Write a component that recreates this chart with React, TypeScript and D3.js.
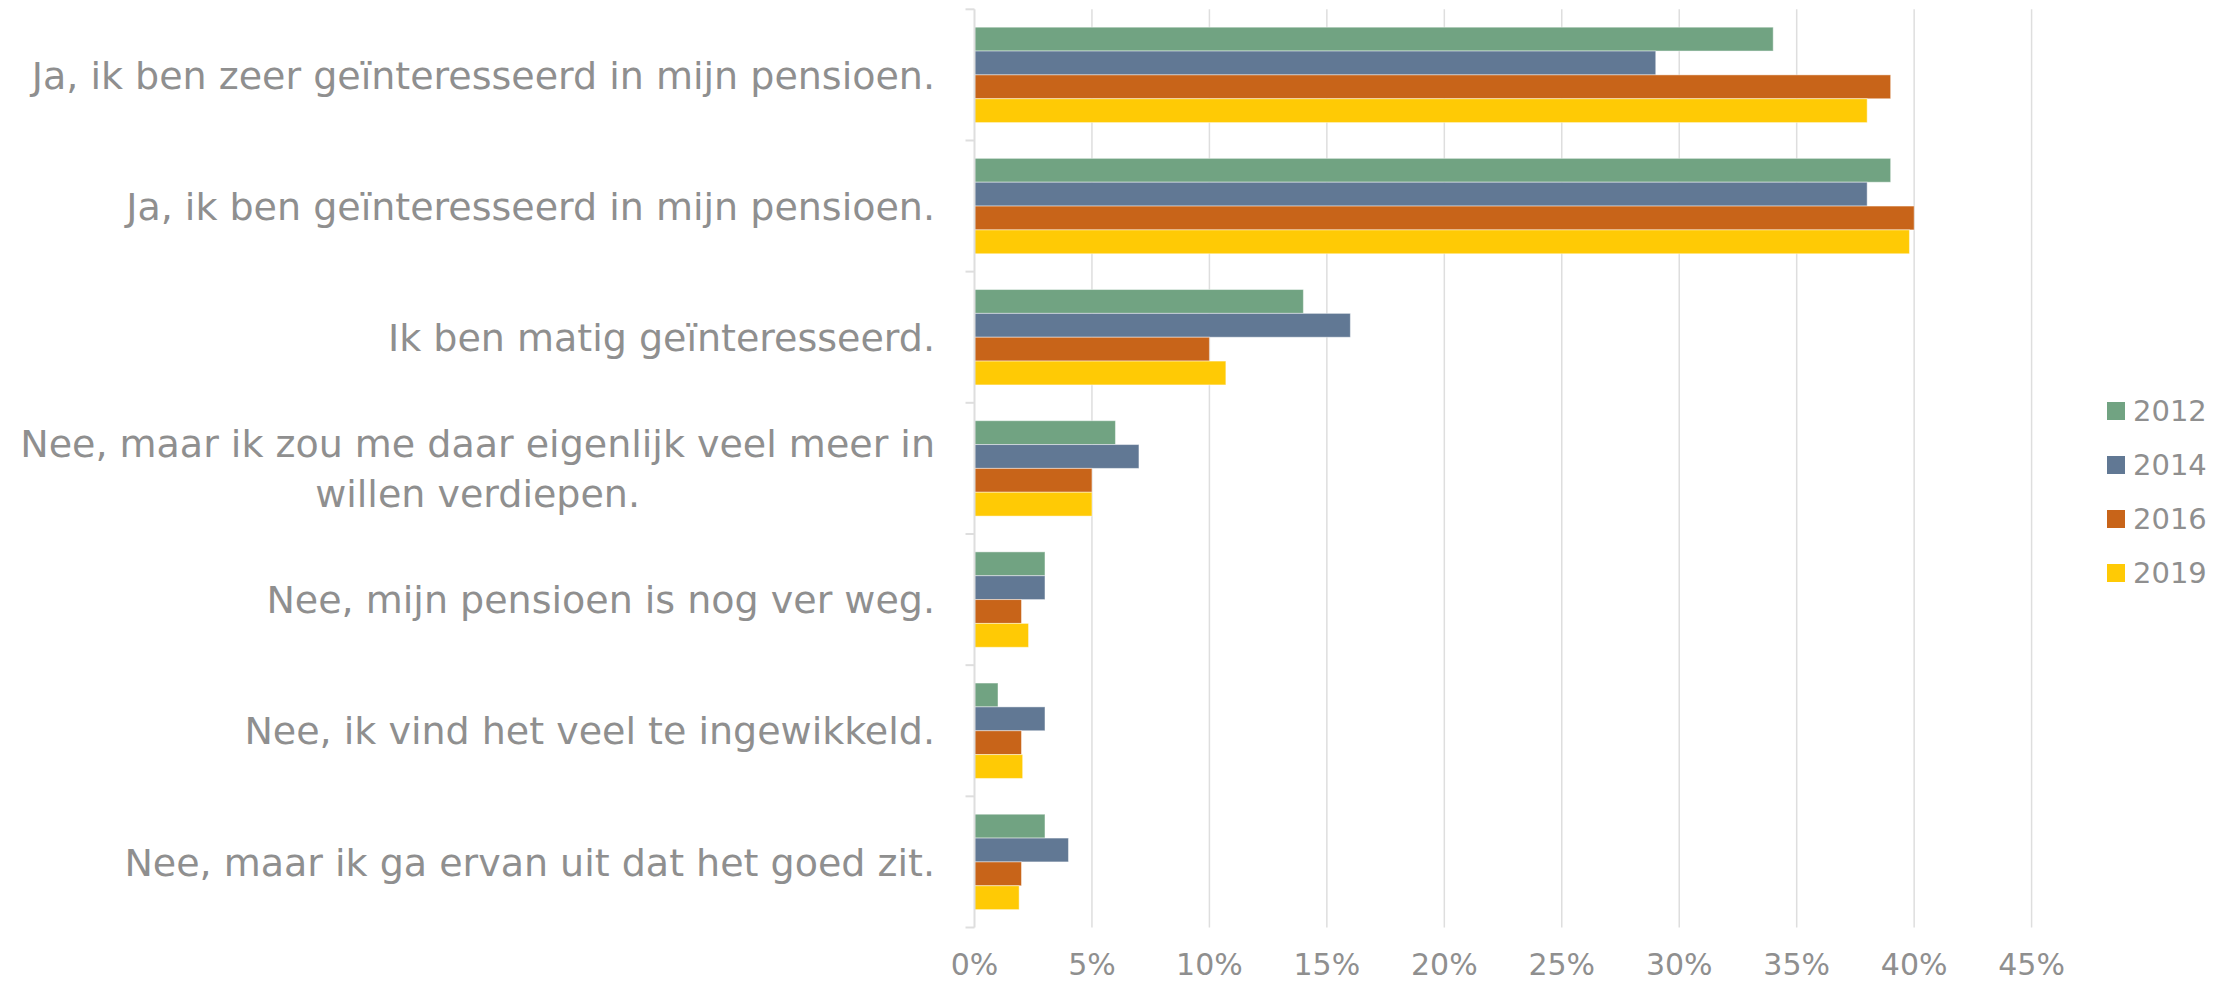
import React, { useEffect, useRef } from "react";
import * as d3 from "d3";

const categories = [
  "Ja, ik ben zeer geïnteresseerd in mijn pensioen.",
  "Ja, ik ben geïnteresseerd in mijn pensioen.",
  "Ik ben matig geïnteresseerd.",
  "Nee, maar ik zou me daar eigenlijk veel meer in willen verdiepen.",
  "Nee, mijn pensioen is nog ver weg.",
  "Nee, ik vind het veel te ingewikkeld.",
  "Nee, maar ik ga ervan uit dat het goed zit.",
];
const years = ["2012", "2014", "2016", "2019"];
const values2012 = [34, 39, 14, 6, 3, 1, 3];
const values2014 = [29, 38, 16, 7, 3, 3, 4];
const values2016 = [39, 40, 10, 5, 2, 2, 2];
const values2019 = [38, 39.8, 10.7, 5, 2.3, 2.05, 1.9];
const seriesValues = [values2012, values2014, values2016, values2019];
const colors = ["#71a382", "#617894", "#c86419", "#ffca05"];
const tickValues = [0, 5, 10, 15, 20, 25, 30, 35, 40, 45];

const W = 2234;
const H = 983;
const FONT = "'DejaVu Sans', 'Open Sans', sans-serif";
const TEXT = "#8f8f8f";

export default function App() {
  const ref = useRef<SVGSVGElement>(null);
  useEffect(() => {
    document.body.style.margin = "0";
    document.body.style.overflow = "hidden";
    const svg = d3.select(ref.current);
    svg.selectAll("*").remove();

    const left = 974.5;
    const right = 2031.6;
    const top = 9.3;
    const bottom = 927.5;

    const x = d3.scaleLinear().domain([0, 45]).range([left, right]);
    const y = d3.scaleBand<string>().domain(categories).range([top, bottom]).paddingInner(0).paddingOuter(0);
    const ys = d3.scaleBand<string>().domain(years).range([0, y.bandwidth()]).paddingInner(0).paddingOuter(0.75);

    // gridlines
    svg.append("g")
      .selectAll("line")
      .data(tickValues.filter((t) => t > 0))
      .join("line")
      .attr("x1", (d) => x(d)).attr("x2", (d) => x(d))
      .attr("y1", top).attr("y2", bottom)
      .attr("stroke", "#dedede").attr("stroke-width", 1.5);

    // bars
    const g = svg.append("g");
    categories.forEach((c, i) => {
      years.forEach((yr, j) => {
        g.append("rect")
          .attr("x", x(0))
          .attr("y", (y(c) as number) + (ys(yr) as number))
          .attr("width", x(seriesValues[j][i]) - x(0))
          .attr("height", ys.bandwidth())
          .attr("fill", colors[j])
          .attr("stroke", "rgba(255,255,255,0.45)")
          .attr("stroke-width", 1);
      });
    });

    // category axis line and ticks
    svg.append("line")
      .attr("x1", left).attr("x2", left).attr("y1", top).attr("y2", bottom)
      .attr("stroke", "#dedede").attr("stroke-width", 2);
    const tickYs = categories.map((c) => y(c) as number).concat([bottom]);
    svg.append("g").selectAll("line").data(tickYs).join("line")
      .attr("x1", left - 9).attr("x2", left).attr("y1", (d) => d).attr("y2", (d) => d)
      .attr("stroke", "#dedede").attr("stroke-width", 2);

    // x tick labels
    svg.append("g").selectAll("text").data(tickValues).join("text")
      .attr("x", (d) => x(d)).attr("y", 975)
      .attr("text-anchor", "middle")
      .attr("font-family", FONT).attr("font-size", 30)
      .attr("fill", TEXT)
      .text((d) => d + "%");

    // category labels with wrapping
    const labelRight = 935;
    const lineH = 50;
    const fs = 38;
    const wrap = (s: string, maxChars: number) => {
      const words = s.split(" ");
      const lines: string[] = [];
      let cur = "";
      words.forEach((w) => {
        const test = cur ? cur + " " + w : w;
        if (test.length > maxChars && cur) {
          lines.push(cur);
          cur = w;
        } else cur = test;
      });
      if (cur) lines.push(cur);
      return lines;
    };
    categories.forEach((c) => {
      const lines = wrap(c, 48);
      const cy = (y(c) as number) + y.bandwidth() / 2;
      const y0 = cy - ((lines.length - 1) * lineH) / 2;
      const first = svg.append("text")
        .attr("x", labelRight).attr("y", y0).attr("dy", "0.36em")
        .attr("text-anchor", "end")
        .attr("font-family", FONT).attr("font-size", fs).attr("fill", TEXT)
        .text(lines[0]);
      if (lines.length > 1) {
        const w1 = (first.node() as SVGTextElement).getComputedTextLength();
        const mid = labelRight - w1 / 2;
        lines.slice(1).forEach((ln, k) => {
          svg.append("text")
            .attr("x", mid).attr("y", y0 + (k + 1) * lineH).attr("dy", "0.36em")
            .attr("text-anchor", "middle")
            .attr("font-family", FONT).attr("font-size", fs).attr("fill", TEXT)
            .text(ln);
        });
      }
    });

    // legend
    const lg = svg.append("g");
    years.forEach((yr, j) => {
      const ly = 411 + j * 54;
      lg.append("rect").attr("x", 2107).attr("y", ly - 9).attr("width", 18).attr("height", 18).attr("fill", colors[j]);
      lg.append("text").attr("x", 2133).attr("y", ly).attr("dy", "0.36em")
        .attr("font-family", FONT).attr("font-size", 29).attr("fill", TEXT).text(yr);
    });
  }, []);
  return <svg ref={ref} width={W} height={H} style={{ display: "block", background: "#fff" }} />;
}
